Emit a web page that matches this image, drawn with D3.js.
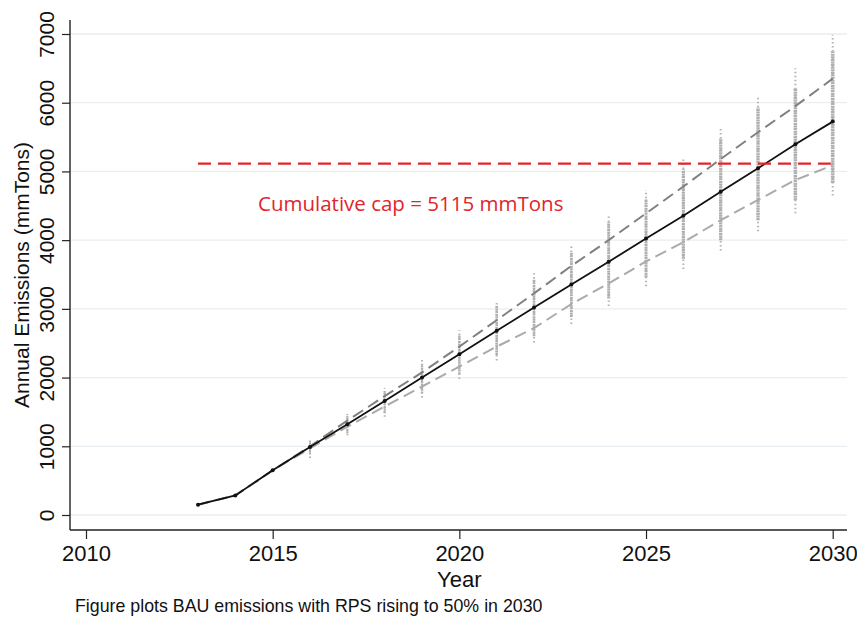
<!DOCTYPE html>
<html>
<head>
<meta charset="utf-8">
<script src="https://cdn.jsdelivr.net/npm/d3@7"></script>
<style>
  body { margin: 0; background: #fff; }
  svg { display: block; }
</style>
</head>
<body>
<svg id="chart" width="857" height="618"></svg>
<script>
const width = 857;
const height = 618;

// years of the projection
const years = [2013, 2014, 2015, 2016, 2017, 2018, 2019, 2020, 2021,
               2022, 2023, 2024, 2025, 2026, 2027, 2028, 2029, 2030];
// mean BAU emissions (black line)
const central = [150, 285, 650, 990, 1320, 1660, 2000, 2340, 2680,
                 3020, 3355, 3685, 4025, 4355, 4705, 5045, 5395, 5725];
// upper / lower bounds (dashed)
const upper = [150, 285, 650, 1000, 1375, 1730, 2075, 2450, 2835,
               3225, 3625, 4000, 4390, 4780, 5180, 5570, 5950, 6350];
const lower = [150, 285, 650, 970, 1285, 1580, 1870, 2160, 2450,
               2720, 3070, 3370, 3690, 3970, 4290, 4585, 4875, 5090];

// simulated draws per year: tail min, dense min, dense max, tail max
const simYears = [2016, 2017, 2018, 2019, 2020, 2021, 2022, 2023,
                  2024, 2025, 2026, 2027, 2028, 2029, 2030];
const tailLow  = [830, 1160, 1430, 1710, 1980, 2250, 2510, 2780,
                  3040, 3330, 3580, 3850, 4130, 4390, 4650];
const denseLow = [880, 1190, 1480, 1770, 2050, 2330, 2600, 2880,
                  3150, 3460, 3730, 4000, 4290, 4580, 4830];
const denseHigh = [1060, 1440, 1800, 2200, 2620, 3040, 3430, 3820,
                   4260, 4600, 5030, 5480, 5930, 6210, 6750];
const tailHigh = [1100, 1470, 1850, 2260, 2690, 3120, 3520, 3930,
                  4380, 4730, 5180, 5640, 6110, 6500, 6990];

// cap
const capValue = 5115;
const capRange = [2013, 2029.95];
const capLabel = "Cumulative cap = 5115 mmTons";

const xTicks = [2010, 2015, 2020, 2025, 2030];
const yTicks = [0, 1000, 2000, 3000, 4000, 5000, 6000, 7000];

const svg = d3.select("#chart");

const x = d3.scaleLinear().domain([2010, 2030]).range([86, 832.7]);
const y = d3.scaleLinear().domain([0, 7000]).range([515, 34]);

const plotLeft = 70, plotRight = 847, plotTop = 20, plotBottom = 530;
const sans = "'Liberation Sans', Arial, sans-serif";

// gridlines
svg.append("g")
  .selectAll("line")
  .data(yTicks)
  .enter()
  .append("line")
  .attr("x1", plotLeft)
  .attr("x2", plotRight)
  .attr("y1", d => y(d))
  .attr("y2", d => y(d))
  .attr("stroke", "#e8eef2")
  .attr("stroke-width", 1.3);

// axes
const yAxis = d3.axisLeft(y).tickValues(yTicks).tickFormat(d3.format("d")).tickSize(8);
const gy = svg.append("g")
  .attr("transform", `translate(${plotLeft},0)`)
  .call(yAxis);
gy.select(".domain").attr("d", `M0,${plotTop}V${plotBottom}`).attr("stroke", "#222").attr("stroke-width", 1.4);
gy.selectAll(".tick line").attr("stroke", "#222").attr("stroke-width", 1.2);
gy.selectAll(".tick text")
  .attr("font-family", sans)
  .attr("font-size", 21)
  .attr("fill", "#111")
  .attr("text-anchor", "middle")
  .attr("x", 0)
  .attr("dy", 0)
  .attr("transform", "translate(-16,0) rotate(-90)");

const xAxis = d3.axisBottom(x).tickValues(xTicks).tickFormat(d3.format("d")).tickSize(9).tickPadding(6);
const gx = svg.append("g")
  .attr("transform", `translate(0,${plotBottom})`)
  .call(xAxis);
gx.select(".domain").attr("d", `M${plotLeft},0H${plotRight}`).attr("stroke", "#222").attr("stroke-width", 1.4);
gx.selectAll(".tick line").attr("stroke", "#222").attr("stroke-width", 1.2);
gx.selectAll(".tick text")
  .attr("font-family", sans)
  .attr("font-size", 22)
  .attr("fill", "#111");

// axis titles
svg.append("text")
  .attr("transform", `translate(29,${(plotTop + plotBottom) / 2}) rotate(-90)`)
  .attr("text-anchor", "middle")
  .attr("font-family", sans)
  .attr("font-size", 21)
  .attr("fill", "#111")
  .text("Annual Emissions (mmTons)");

svg.append("text")
  .attr("x", x(2020))
  .attr("y", 587)
  .attr("text-anchor", "middle")
  .attr("font-family", sans)
  .attr("font-size", 22)
  .attr("fill", "#111")
  .text("Year");

svg.append("text")
  .attr("x", 75)
  .attr("y", 612)
  .attr("font-family", sans)
  .attr("font-size", 17.8)
  .attr("fill", "#111")
  .text("Figure plots BAU emissions with RPS rising to 50% in 2030");

// simulated draws
const sims = simYears.map((yr, i) => ({
  year: yr, t0: tailLow[i], d0: denseLow[i], d1: denseHigh[i], t1: tailHigh[i]
}));

const gs = svg.append("g");
gs.selectAll("line.tail")
  .data(sims)
  .enter()
  .append("line")
  .attr("class", "tail")
  .attr("x1", d => x(d.year))
  .attr("x2", d => x(d.year))
  .attr("y1", d => y(d.t0))
  .attr("y2", d => y(d.t1))
  .attr("stroke", "#b3b3b3")
  .attr("stroke-width", 2)
  .attr("stroke-dasharray", "1.5,2.5");

gs.selectAll("line.dense")
  .data(sims)
  .enter()
  .append("line")
  .attr("class", "dense")
  .attr("x1", d => x(d.year))
  .attr("x2", d => x(d.year))
  .attr("y1", d => y(d.d0))
  .attr("y2", d => y(d.d1))
  .attr("stroke", "#b0b0b0")
  .attr("stroke-width", (d, i) => 2 + i * 0.12)
  .attr("stroke-dasharray", "2,0.6");

// lines
const line = d3.line()
  .x(d => x(d[0]))
  .y(d => y(d[1]));

svg.append("path")
  .attr("d", line(years.map((yr, i) => [yr, lower[i]])))
  .attr("fill", "none")
  .attr("stroke", "#aaaaaa")
  .attr("stroke-width", 2)
  .attr("stroke-dasharray", "12,6");

svg.append("path")
  .attr("d", line(years.map((yr, i) => [yr, upper[i]])))
  .attr("fill", "none")
  .attr("stroke", "#808080")
  .attr("stroke-width", 2)
  .attr("stroke-dasharray", "12,6");

svg.append("path")
  .attr("d", line(years.map((yr, i) => [yr, central[i]])))
  .attr("fill", "none")
  .attr("stroke", "#111")
  .attr("stroke-width", 1.8);

svg.append("g")
  .selectAll("circle")
  .data(years.map((yr, i) => [yr, central[i]]))
  .enter()
  .append("circle")
  .attr("cx", d => x(d[0]))
  .attr("cy", d => y(d[1]))
  .attr("r", 2)
  .attr("fill", "#111");

// cumulative cap
svg.append("line")
  .attr("x1", x(capRange[0]))
  .attr("x2", x(capRange[1]))
  .attr("y1", y(capValue))
  .attr("y2", y(capValue))
  .attr("stroke", "#e2242b")
  .attr("stroke-width", 2.2)
  .attr("stroke-dasharray", "13,7");

svg.append("text")
  .attr("x", 258)
  .attr("y", 211)
  .attr("font-family", "'Open Sans', sans-serif")
  .attr("font-size", 20.5)
  .attr("fill", "#e2242b")
  .text(capLabel);
</script>
</body>
</html>
